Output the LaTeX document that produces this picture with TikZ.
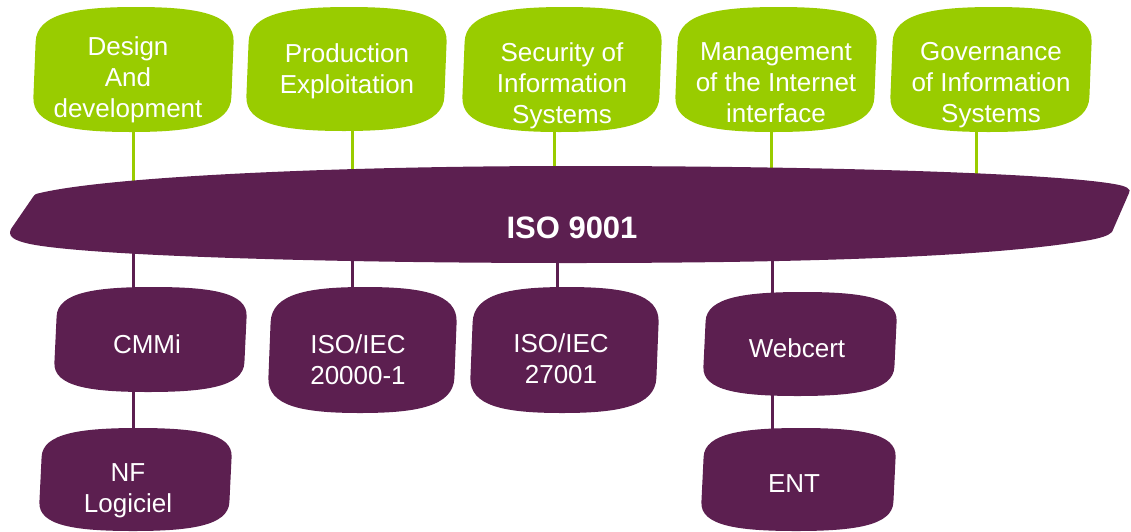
\documentclass[tikz,border=0pt]{standalone}
\usepackage{fontspec}
\setmainfont{Liberation Sans}
\usetikzlibrary{backgrounds}
\definecolor{leaf}{RGB}{153,204,0}
\definecolor{plum}{RGB}{92,31,80}
% blob: name, left, top, right, bottom, colour (pixel units, y downwards)
\newcommand\blob[6]{%
  \pgfmathsetmacro\bW{#4-#2-5}%
  \pgfmathsetmacro\bH{#5-#3}%
  \foreach \bn/\bu/\bv in {a/0/0.28, b/0/0.05, c/0.2/0, d/0.5/0, e/0.8/0, f/1/0.05, g/1/0.28, h/1/0.72, i/1/0.95, j/0.8/1, k/0.5/1, l/0.2/1, m/0/0.95, n/0/0.72}
    {\coordinate (bp-\bn) at ({#2+\bu*\bW+5*(1-\bv)},{#3+\bv*\bH});}
  \fill[#6] (bp-a) .. controls (bp-b) and (bp-c) .. (bp-d)
    .. controls (bp-e) and (bp-f) .. (bp-g) -- (bp-h)
    .. controls (bp-i) and (bp-j) .. (bp-k)
    .. controls (bp-l) and (bp-m) .. (bp-n) -- cycle;
  \node[inner sep=0pt, minimum width={#4-#2}, minimum height={#5-#3}] (#1) at ({(#2+#4)/2},{(#3+#5)/2}) {};
}
\begin{document}
\begin{tikzpicture}[x=1pt,y=-1pt,
  gconn/.style={line width=3pt, draw=leaf},
  pconn/.style={line width=3pt, draw=plum},
  txt/.style={text=white, font=\fontsize{26}{31}\selectfont, align=center, inner sep=0pt, anchor=north}]
\useasboundingbox (0,0) rectangle (1131,531);

% top (green) boxes
\blob{d}{32}{7}{235}{132}{leaf}
\blob{p}{245}{7}{448}{131}{leaf}
\blob{s}{461}{7}{663}{132}{leaf}
\blob{m}{674}{7}{878}{132}{leaf}
\blob{g}{889}{7}{1093}{132}{leaf}

% bottom (purple) boxes
\blob{cmmi}{53}{287}{248}{392}{plum}
\blob{nf}{38}{428}{233}{531}{plum}
\blob{i20}{267}{287}{458}{413}{plum}
\blob{i27}{469}{287}{660}{413}{plum}
\blob{web}{702}{292}{898}{396}{plum}
\blob{ent}{700}{428}{897}{531}{plum}

% ISO 9001 band
\fill[plum] (36,194) .. controls (100,177) and (330,166) .. (572,166)
  .. controls (820,166) and (1050,173) .. (1114,184)
  .. controls (1126,186) and (1132,189) .. (1129,193) -- (1112,232)
  .. controls (1108,236) and (1100,238) .. (1090,240)
  .. controls (1000,256) and (820,263) .. (572,263)
  .. controls (330,263) and (90,256) .. (30,244)
  .. controls (12,240) and (8,236) .. (11,229) -- (33,197)
  .. controls (34,195.5) and (35,194.5) .. (36,194) -- cycle;
\node[text=white, font=\bfseries\fontsize{31}{36}\selectfont, inner sep=0pt, anchor=base] (iso) at (572,238) {ISO 9001};

% texts
\node[txt] (d-t) at (128,36) {Design\\And\\development};
\node[txt] (p-t) at (347,43) {Production\\Exploitation};
\node[txt] (s-t) at (562,42) {Security of\\Information\\Systems};
\node[txt] (m-t) at (776,42) {Management\\of the Internet\\interface};
\node[txt] (g-t) at (991,42) {Governance\\of Information\\Systems};
\node[txt] (cmmi-t) at (147,334) {CMMi};
\node[txt] (nf-t) at (128,463) {NF\\Logiciel};
\node[txt] (i20-t) at (358,334) {ISO/IEC\\20000-1};
\node[txt] (i27-t) at (561,333) {ISO/IEC\\27001};
\node[txt] (web-t) at (797,338) {Webcert};
\node[txt] (ent-t) at (794,474) {ENT};

% attachment points on the band
\coordinate (gd) at (133,205);
\coordinate (gp) at (352,205);
\coordinate (gs) at (554,205);
\coordinate (gm) at (771,205);
\coordinate (gg) at (976,205);
\coordinate (bd) at (133,230);
\coordinate (bp) at (352,230);
\coordinate (bs) at (557,230);
\coordinate (bm) at (772,230);

\begin{pgfonlayer}{background}
\draw[gconn] (d.center -| gd) -- (gd);
\draw[gconn] (p.center -| gp) -- (gp);
\draw[gconn] (s.center -| gs) -- (gs);
\draw[gconn] (m.center -| gm) -- (gm);
\draw[gconn] (g.center -| gg) -- (gg);
\draw[pconn] (bd) -- (cmmi.center -| bd);
\draw[pconn] (cmmi.center -| bd) -- (nf.center -| bd);
\draw[pconn] (bp) -- (i20.center -| bp);
\draw[pconn] (bs) -- (i27.center -| bs);
\draw[pconn] (bm) -- (web.center -| bm);
\draw[pconn] (web.center -| bm) -- (ent.center -| bm);
\end{pgfonlayer}
\end{tikzpicture}
\end{document}
